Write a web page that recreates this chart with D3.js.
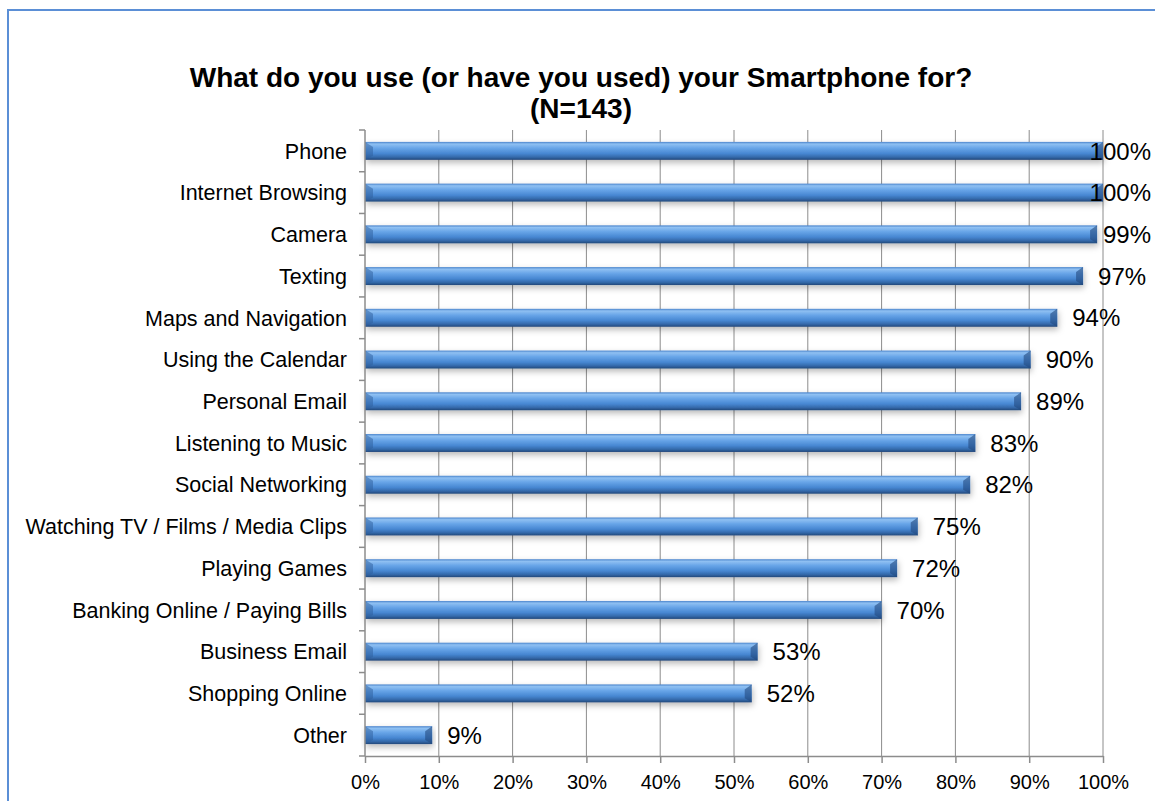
<!DOCTYPE html>
<html>
  <head>
    <meta charset="utf-8" />
    <script src="https://d3js.org/d3.v7.min.js"></script>
    <style>
      body {
        margin: 0;
        background: #fff;
      }
      text {
        font-family: "Liberation Sans", Arial, sans-serif;
        fill: #000;
      }
      .grid line {
        stroke: #8c8c8c;
        stroke-width: 1px;
      }
      .axis path,
      .axis line {
        stroke: #8c8c8c;
        stroke-width: 1.5px;
      }
    </style>
  </head>
  <body>
    <svg id="chart" width="1155" height="801"></svg>
    <script>
      // survey answers
      const categories = [
        "Phone",
        "Internet Browsing",
        "Camera ",
        "Texting",
        "Maps and Navigation",
        "Using the Calendar",
        "Personal Email",
        "Listening to Music",
        "Social Networking",
        "Watching TV / Films / Media Clips",
        "Playing Games",
        "Banking Online / Paying Bills",
        "Business Email",
        "Shopping Online",
        "Other",
      ];
      const values = [
        100, 100, 99.2, 97.3, 93.8, 90.2, 88.9, 82.7, 82, 74.9, 72.1, 70, 53.2,
        52.4, 9.1,
      ];
      const xTicks = [0, 10, 20, 30, 40, 50, 60, 70, 80, 90, 100];
      const titleLines = [
        "What do you use (or have you used) your Smartphone for?",
        "(N=143)",
      ];

      const svg = d3.select("#chart");
      const margin = { top: 130, left: 365, right: 52, bottom: 45 };
      const width = +svg.attr("width");
      const height = +svg.attr("height");

      // outer frame (runs off the right/bottom edge like the screenshot)
      svg
        .append("rect")
        .attr("x", 8)
        .attr("y", 10)
        .attr("width", 1200)
        .attr("height", 900)
        .attr("fill", "none")
        .attr("stroke", "#5b8fd6")
        .attr("stroke-width", 2);

      svg
        .selectAll("text.title")
        .data(titleLines)
        .join("text")
        .attr("class", "title")
        .attr("x", 581)
        .attr("y", (d, i) => 87 + i * 31)
        .attr("text-anchor", "middle")
        .attr("font-size", "28px")
        .attr("font-weight", "bold")
        .text((d) => d);

      const x = d3
        .scaleLinear()
        .domain([0, 100])
        .range([margin.left, width - margin.right]);
      const y = d3
        .scaleBand()
        .domain(categories)
        .range([margin.top, height - margin.bottom])
        .paddingInner(0.57)
        .paddingOuter(0.285);

      const plotBottom = height - margin.bottom;

      // gradient + shadow for the bevelled bars
      const defs = svg.append("defs");
      const grad = defs
        .append("linearGradient")
        .attr("id", "barGrad")
        .attr("x1", 0)
        .attr("y1", 0)
        .attr("x2", 0)
        .attr("y2", 1);
      [
        [0, "#4a84cc"],
        [0.12, "#8fc0f2"],
        [0.35, "#68a5e8"],
        [0.65, "#4787d2"],
        [0.85, "#3469aa"],
        [1, "#22487a"],
      ].forEach((s) =>
        grad.append("stop").attr("offset", s[0]).attr("stop-color", s[1])
      );
      const shadow = defs
        .append("filter")
        .attr("id", "shadow")
        .attr("x", "-5%")
        .attr("y", "-50%")
        .attr("width", "110%")
        .attr("height", "250%");
      shadow
        .append("feDropShadow")
        .attr("dx", 1)
        .attr("dy", 3)
        .attr("stdDeviation", 3)
        .attr("flood-color", "#000")
        .attr("flood-opacity", 0.28);

      // gridlines
      svg
        .append("g")
        .attr("class", "grid")
        .selectAll("line")
        .data(xTicks.slice(1))
        .join("line")
        .attr("x1", (d) => x(d))
        .attr("x2", (d) => x(d))
        .attr("y1", margin.top)
        .attr("y2", plotBottom);

      // bars
      const rows = categories.map((c, i) => ({ cat: c, v: values[i] }));
      const bars = svg
        .append("g")
        .selectAll("g.bar")
        .data(rows)
        .join("g")
        .attr("class", "bar");

      const bh = y.bandwidth();
      bars
        .append("rect")
        .attr("x", x(0))
        .attr("y", (d) => y(d.cat))
        .attr("width", (d) => x(d.v) - x(0))
        .attr("height", bh)
        .attr("fill", "url(#barGrad)")
        .attr("filter", "url(#shadow)");

      // left bevel
      bars
        .append("polygon")
        .attr("points", (d) => {
          const x0 = x(0),
            t = y(d.cat),
            b = t + bh;
          return [
            [x0, t],
            [x0 + 8, t + 5],
            [x0 + 8, b - 4],
            [x0, b],
          ].join(" ");
        })
        .attr("fill", "#2e5e9c")
        .attr("opacity", 0.5);
      // right bevel
      bars
        .append("polygon")
        .attr("points", (d) => {
          const x1 = x(d.v),
            t = y(d.cat),
            b = t + bh;
          return [
            [x1, t],
            [x1 - 7, t + 5],
            [x1 - 7, b - 4],
            [x1, b],
          ].join(" ");
        })
        .attr("fill", "#23497e")
        .attr("opacity", 0.6);

      // data labels (kept inside the chart frame like Excel does)
      svg
        .append("g")
        .selectAll("text.val")
        .data(rows)
        .join("text")
        .attr("class", "val")
        .attr("y", (d) => y(d.cat) + bh / 2)
        .attr("dy", "0.36em")
        .attr("font-size", "24px")
        .text((d) => Math.round(d.v) + "%")
        .attr("x", function (d) {
          const w = this.getComputedTextLength();
          return Math.min(x(d.v) + 15, 1151 - w);
        });

      // y axis: line + ticks at band boundaries + labels
      const yAxis = svg.append("g").attr("class", "axis");
      yAxis
        .append("line")
        .attr("x1", x(0))
        .attr("x2", x(0))
        .attr("y1", margin.top)
        .attr("y2", plotBottom);
      const step = y.step();
      yAxis
        .selectAll("line.tick")
        .data(d3.range(categories.length + 1))
        .join("line")
        .attr("class", "tick")
        .attr("x1", x(0) - 6)
        .attr("x2", x(0))
        .attr("y1", (i) => margin.top + i * step)
        .attr("y2", (i) => margin.top + i * step);
      yAxis
        .selectAll("text")
        .data(categories)
        .join("text")
        .attr("x", x(0) - 18)
        .attr("y", (d) => y(d) + bh / 2)
        .attr("dy", "0.36em")
        .attr("text-anchor", "end")
        .attr("font-size", "21.5px")
        .text((d) => d);

      // x axis
      svg
        .append("g")
        .attr("class", "axis")
        .attr("transform", `translate(0,${plotBottom})`)
        .call(
          d3
            .axisBottom(x)
            .tickValues(xTicks)
            .tickSize(7)
            .tickSizeOuter(0)
            .tickPadding(12)
            .tickFormat((d) => d + "%")
        )
        .call((g) =>
          g
            .selectAll("text")
            .attr("font-size", "20px")
            .attr("font-family", "Liberation Sans, Arial, sans-serif")
            .attr("fill", "#000")
        );
    </script>
  </body>
</html>
